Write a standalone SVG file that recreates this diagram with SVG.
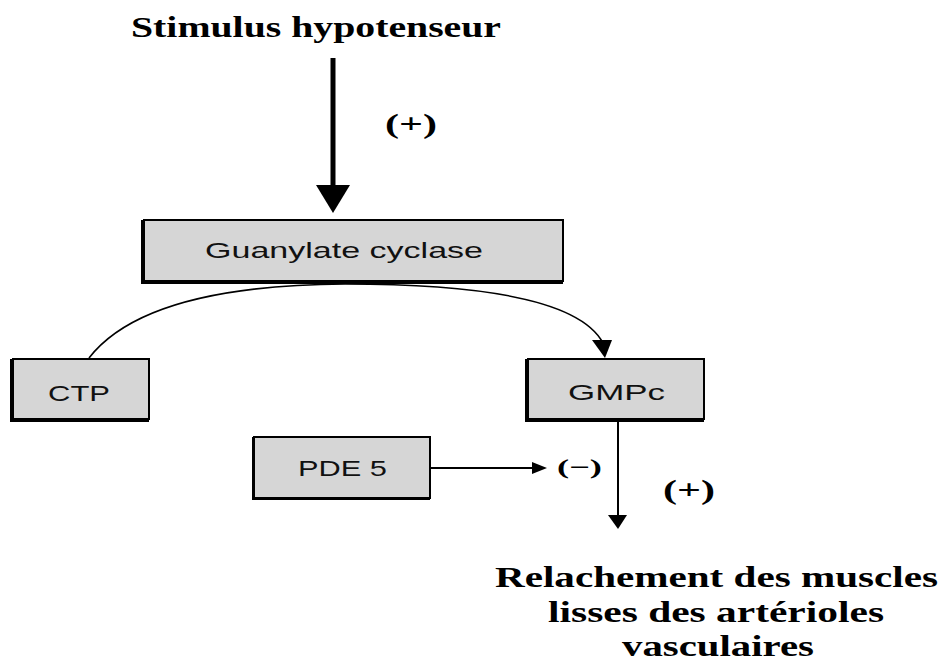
<svg xmlns="http://www.w3.org/2000/svg" width="943" height="661" viewBox="0 0 943 661">
<style>
.box{fill:#d6d6d6;stroke:#000;stroke-width:2}
.sh{fill:#000}
.lbl{font-family:"Liberation Sans",Arial,sans-serif;font-size:22px;fill:#111}
.ser{font-family:"Liberation Serif","Times New Roman",serif;font-weight:bold;fill:#000}
.ln{fill:none;stroke:#000}
</style>
<rect width="943" height="661" fill="#fff"/>

<text class="ser" x="131" y="37" font-size="30" textLength="370" lengthAdjust="spacingAndGlyphs">Stimulus hypotenseur</text>

<g id="connectors">
<line class="ln" x1="333" y1="58" x2="333" y2="186" stroke-width="5"/>
<path d="M316,185 L350,185 L333,213 z" fill="#000"/>
<path class="ln" stroke-width="1.6" d="M89,358 C120,318 190,285 345,284 C480,284 580,300 603,343"/>
<path d="M592,340 L612,340 L605,358 z" fill="#000"/>
<line class="ln" x1="431" y1="468" x2="536" y2="468" stroke-width="2"/>
<path d="M532,462 L547,468 L532,474 z" fill="#000"/>
<line class="ln" x1="618" y1="421" x2="618" y2="516" stroke-width="2"/>
<path d="M608,515 L627,515 L618,529 z" fill="#000"/>
</g>

<text class="ser" x="385" y="133" font-size="28" textLength="52" lengthAdjust="spacingAndGlyphs">(+)</text>
<text class="ser" x="557" y="474" font-size="21" textLength="45" lengthAdjust="spacingAndGlyphs">(−)</text>
<text class="ser" x="663" y="499" font-size="28" textLength="52" lengthAdjust="spacingAndGlyphs">(+)</text>

<g id="guanylate">
<rect class="sh" x="141" y="220" width="422" height="64"/>
<rect class="box" x="144" y="220" width="419" height="61"/>
<text class="lbl" x="205" y="258" textLength="278" lengthAdjust="spacingAndGlyphs">Guanylate cyclase</text>
</g>
<g id="ctp">
<rect class="sh" x="10" y="359" width="139" height="63"/>
<rect class="box" x="13" y="359" width="136" height="60"/>
<text class="lbl" x="48" y="401" textLength="62" lengthAdjust="spacingAndGlyphs">CTP</text>
</g>
<g id="gmpc">
<rect class="sh" x="525" y="359" width="179" height="63"/>
<rect class="box" x="528" y="359" width="176" height="60"/>
<text class="lbl" x="568" y="400" textLength="97" lengthAdjust="spacingAndGlyphs">GMPc</text>
</g>
<g id="pde5">
<rect class="sh" x="252" y="437" width="178" height="63"/>
<rect class="box" x="254" y="437" width="176" height="61"/>
<text class="lbl" x="298" y="476" textLength="89" lengthAdjust="spacingAndGlyphs">PDE 5</text>
</g>

<g id="relachement">
<text class="ser" x="495" y="587" font-size="29" textLength="443" lengthAdjust="spacingAndGlyphs">Relachement des muscles</text>
<text class="ser" x="548" y="622" font-size="29" textLength="336" lengthAdjust="spacingAndGlyphs">lisses des artérioles</text>
<text class="ser" x="622" y="656" font-size="29" textLength="192" lengthAdjust="spacingAndGlyphs">vasculaires</text>
</g>
</svg>
